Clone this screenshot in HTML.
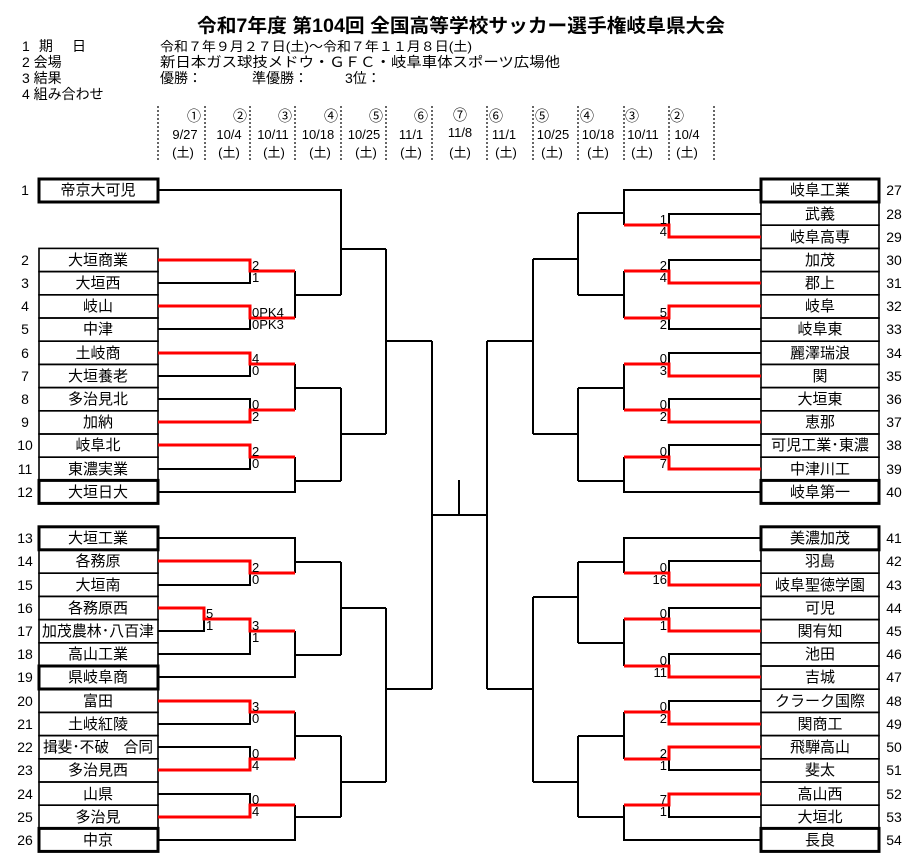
<!DOCTYPE html>
<html><head><meta charset="utf-8"><style>
html,body{margin:0;padding:0;background:#fff;}
svg{display:block;}
text{font-family:"Liberation Sans","Noto Sans CJK JP",sans-serif;fill:#000;}
.t{font-size:15px;text-anchor:middle;}
.n{font-size:14px;text-anchor:middle;}
.s{font-size:13px;}
.h{font-size:14px;}
</style></head><body>
<svg width="918" height="859" viewBox="0 0 918 859" xmlns="http://www.w3.org/2000/svg">
<text x="197" y="32" font-size="19" font-weight="bold" textLength="528" lengthAdjust="spacingAndGlyphs">令和7年度 第104回 全国高等学校サッカー選手権岐阜県大会</text>
<g class="h">
<text x="22" y="51" textLength="64">1 期　日</text><text x="22" y="67">2 会場</text><text x="22" y="83">3 結果</text><text x="22" y="99">4 組み合わせ</text>
<text x="160" y="51" font-size="13" textLength="312" lengthAdjust="spacingAndGlyphs">令和７年９月２７日(土)～令和７年１１月８日(土)</text>
<text x="160" y="67" textLength="400" lengthAdjust="spacingAndGlyphs">新日本ガス球技メドウ・ＧＦＣ・岐阜車体スポーツ広場他</text>
<text x="160" y="83">優勝：</text><text x="252" y="83">準優勝：</text><text x="345" y="83">3位：</text>
</g>
<g stroke="#000" stroke-width="1.2" stroke-dasharray="2,2">
<path d="M158,106V160M205,106V160M250,106V160M295,106V160M341,106V160M386,106V160M432,106V160M487,106V160M533,106V160M578,106V160M624,106V160M669,106V160M714,106V160"/>
</g>
<g font-size="14" text-anchor="middle">
<text x="194" y="121">①</text><text x="240" y="121">②</text><text x="285" y="121">③</text><text x="331" y="121">④</text><text x="376" y="121">⑤</text><text x="421" y="121">⑥</text><text x="460" y="120">⑦</text><text x="496" y="121">⑥</text><text x="542" y="121">⑤</text><text x="587" y="121">④</text><text x="632" y="121">③</text><text x="677" y="121">②</text>
</g>
<g font-size="13" text-anchor="middle">
<text x="185" y="139">9/27</text><text x="229" y="139">10/4</text><text x="273" y="139">10/11</text><text x="318" y="139">10/18</text><text x="364" y="139">10/25</text><text x="411" y="139">11/1</text><text x="460" y="137">11/8</text><text x="504" y="139">11/1</text><text x="553" y="139">10/25</text><text x="598" y="139">10/18</text><text x="643" y="139">10/11</text><text x="687" y="139">10/4</text>
<text x="183" y="157">(土)</text><text x="229" y="157">(土)</text><text x="274" y="157">(土)</text><text x="320" y="157">(土)</text><text x="366" y="157">(土)</text><text x="411" y="157">(土)</text><text x="460" y="157">(土)</text><text x="506" y="157">(土)</text><text x="552" y="157">(土)</text><text x="598" y="157">(土)</text><text x="642" y="157">(土)</text><text x="687" y="157">(土)</text>
</g>

<g fill="none" stroke="#000" stroke-width="1.6">
<rect x="39" y="248.4" width="119" height="23.2"/><rect x="39" y="271.6" width="119" height="23.2"/><rect x="39" y="294.8" width="119" height="23.2"/><rect x="39" y="318" width="119" height="23.2"/><rect x="39" y="341.2" width="119" height="23.2"/><rect x="39" y="364.4" width="119" height="23.2"/><rect x="39" y="387.6" width="119" height="23.2"/><rect x="39" y="410.8" width="119" height="23.2"/><rect x="39" y="434" width="119" height="23.2"/><rect x="39" y="457.2" width="119" height="23.2"/>
<rect x="39" y="550" width="119" height="23.2"/><rect x="39" y="573.2" width="119" height="23.2"/><rect x="39" y="596.4" width="119" height="23.2"/><rect x="39" y="619.6" width="119" height="23.2"/><rect x="39" y="642.8" width="119" height="23.2"/><rect x="39" y="689.2" width="119" height="23.2"/><rect x="39" y="712.4" width="119" height="23.2"/><rect x="39" y="735.6" width="119" height="23.2"/><rect x="39" y="758.8" width="119" height="23.2"/><rect x="39" y="782" width="119" height="23.2"/><rect x="39" y="805.2" width="119" height="23.2"/>
<rect x="761" y="202" width="118" height="23.2"/><rect x="761" y="225.2" width="118" height="23.2"/><rect x="761" y="248.4" width="118" height="23.2"/><rect x="761" y="271.6" width="118" height="23.2"/><rect x="761" y="294.8" width="118" height="23.2"/><rect x="761" y="318" width="118" height="23.2"/><rect x="761" y="341.2" width="118" height="23.2"/><rect x="761" y="364.4" width="118" height="23.2"/><rect x="761" y="387.6" width="118" height="23.2"/><rect x="761" y="410.8" width="118" height="23.2"/><rect x="761" y="434" width="118" height="23.2"/><rect x="761" y="457.2" width="118" height="23.2"/>
<rect x="761" y="550" width="118" height="23.2"/><rect x="761" y="573.2" width="118" height="23.2"/><rect x="761" y="596.4" width="118" height="23.2"/><rect x="761" y="619.6" width="118" height="23.2"/><rect x="761" y="642.8" width="118" height="23.2"/><rect x="761" y="666" width="118" height="23.2"/><rect x="761" y="689.2" width="118" height="23.2"/><rect x="761" y="712.4" width="118" height="23.2"/><rect x="761" y="735.6" width="118" height="23.2"/><rect x="761" y="758.8" width="118" height="23.2"/><rect x="761" y="782" width="118" height="23.2"/><rect x="761" y="805.2" width="118" height="23.2"/>
</g>
<g fill="none" stroke="#000" stroke-width="3">
<rect x="39" y="179" width="119" height="23"/><rect x="39" y="480.4" width="119" height="23"/><rect x="39" y="526.8" width="119" height="23"/><rect x="39" y="666" width="119" height="23"/><rect x="39" y="828.4" width="119" height="23"/>
<rect x="761" y="179" width="118" height="23"/><rect x="761" y="480.4" width="118" height="23"/><rect x="761" y="526.8" width="118" height="23"/><rect x="761" y="828.4" width="118" height="23"/>
</g>

<g fill="none" stroke="#000" stroke-width="2">
<path d="M158,260H250V283H158M158,306H250V329H158M158,353H250V376H158M158,399H250V422H158M158,445H250V469H158M158,561H250V585H158M158,701H250V724H158M158,747H250V770H158M158,794H250V817H158"/>
<path d="M158,608H204V631H158M158,654H250V619M250,271H295M250,318H295"/>
<path d="M158,190H341V295M295,271V318M295,295H341M341,249H386M295,364V410M295,388H341M158,492H295V457M295,481H341M341,388V481M341,434H386M386,249V434M386,341H432"/>
<path d="M432,341V689M432,515H487M459,480V515"/>
<path d="M158,538H295V573M295,562H341M158,677H295V631M295,655H341M341,562V655M341,608H386M295,712V759M295,736H341M158,840H295V805M295,817H341M341,736V817M341,782H386M386,608V782M386,689H432"/>
<path d="M761,214H669V237H761M761,260H669V283H761M761,306H669V329H761M761,353H669V376H761M761,399H669V422H761M761,445H669V469H761M761,561H669V585H761M761,608H669V631H761M761,654H669V677H761M761,701H669V724H761M761,747H669V770H761M761,794H669V817H761"/>
<path d="M761,190H624V225M624,213H578M624,271V318M624,295H578M578,213V295M578,259H533M624,364V410M624,388H578M761,492H624V457M624,481H578M578,388V481M578,434H533M533,259V434M533,341H487M487,341V689"/>
<path d="M761,538H624V573M624,562H578M624,619V666M624,643H578M578,562V643M578,597H533M624,712V759M624,736H578M761,840H624V805M624,817H578M578,736V817M578,782H533M533,597V782M533,689H487"/>
</g>
<g fill="none" stroke="#f00" stroke-width="3">
<path d="M158,260H250V271H295M158,306H250V318H295M158,353H250V364H295M158,422H250V410H295M158,445H250V457H295"/>
<path d="M158,561H250V573H295M158,608H204V619H250V631H295M158,701H250V712H295M158,770H250V759H295M158,817H250V805H295"/>
<path d="M761,237H669V225H624M761,283H669V271H624M761,306H669V318H624M761,376H669V364H624M761,422H669V410H624M761,469H669V457H624"/>
<path d="M761,585H669V573H624M761,631H669V619H624M761,677H669V666H624M761,724H669V712H624M761,747H669V759H624M761,794H669V805H624"/>
</g>

<g class="s">
<text x="252" y="270">2</text><text x="252" y="282">1</text>
<text x="252" y="317">0PK4</text><text x="252" y="329">0PK3</text>
<text x="252" y="363">4</text><text x="252" y="375">0</text>
<text x="252" y="409">0</text><text x="252" y="421">2</text>
<text x="252" y="456">2</text><text x="252" y="468">0</text>
<text x="252" y="572">2</text><text x="252" y="584">0</text>
<text x="206" y="618">5</text><text x="206" y="630">1</text>
<text x="252" y="630">3</text><text x="252" y="642">1</text>
<text x="252" y="711">3</text><text x="252" y="723">0</text>
<text x="252" y="758">0</text><text x="252" y="770">4</text>
<text x="252" y="804">0</text><text x="252" y="816">4</text>
</g>
<g class="s" text-anchor="end">
<text x="667" y="224">1</text><text x="667" y="236">4</text>
<text x="667" y="270">2</text><text x="667" y="282">4</text>
<text x="667" y="317">5</text><text x="667" y="329">2</text>
<text x="667" y="363">0</text><text x="667" y="375">3</text>
<text x="667" y="409">0</text><text x="667" y="421">2</text>
<text x="667" y="456">0</text><text x="667" y="468">7</text>
<text x="667" y="572">0</text><text x="667" y="584">16</text>
<text x="667" y="618">0</text><text x="667" y="630">1</text>
<text x="667" y="665">0</text><text x="667" y="677">11</text>
<text x="667" y="711">0</text><text x="667" y="723">2</text>
<text x="667" y="758">2</text><text x="667" y="770">1</text>
<text x="667" y="804">7</text><text x="667" y="816">1</text>
</g>

<g class="t">
<text x="98" y="195">帝京大可児</text><text x="98" y="265">大垣商業</text><text x="98" y="288">大垣西</text><text x="98" y="311">岐山</text><text x="98" y="334">中津</text><text x="98" y="358">土岐商</text><text x="98" y="381">大垣養老</text><text x="98" y="404">多治見北</text><text x="98" y="427">加納</text><text x="98" y="450">岐阜北</text><text x="98" y="474">東濃実業</text><text x="98" y="497">大垣日大</text>
<text x="98" y="543">大垣工業</text><text x="98" y="566">各務原</text><text x="98" y="590">大垣南</text><text x="98" y="613">各務原西</text><text x="98" y="636" textLength="112" lengthAdjust="spacingAndGlyphs">加茂農林･八百津</text><text x="98" y="659">高山工業</text><text x="98" y="682">県岐阜商</text><text x="98" y="706">富田</text><text x="98" y="729">土岐紅陵</text><text x="98" y="752" textLength="110" lengthAdjust="spacingAndGlyphs">揖斐･不破　合同</text><text x="98" y="775">多治見西</text><text x="98" y="799">山県</text><text x="98" y="822">多治見</text><text x="98" y="845">中京</text>
</g>
<g class="t">
<text x="820" y="195">岐阜工業</text><text x="820" y="219">武義</text><text x="820" y="242">岐阜高専</text><text x="820" y="265">加茂</text><text x="820" y="288">郡上</text><text x="820" y="311">岐阜</text><text x="820" y="334">岐阜東</text><text x="820" y="358">麗澤瑞浪</text><text x="820" y="381">関</text><text x="820" y="404">大垣東</text><text x="820" y="427">恵那</text><text x="820" y="450" textLength="98" lengthAdjust="spacingAndGlyphs">可児工業･東濃</text><text x="820" y="474">中津川工</text><text x="820" y="497">岐阜第一</text>
<text x="820" y="543">美濃加茂</text><text x="820" y="566">羽島</text><text x="820" y="590">岐阜聖徳学園</text><text x="820" y="613">可児</text><text x="820" y="636">関有知</text><text x="820" y="659">池田</text><text x="820" y="682">吉城</text><text x="820" y="706">クラーク国際</text><text x="820" y="729">関商工</text><text x="820" y="752">飛騨高山</text><text x="820" y="775">斐太</text><text x="820" y="799">高山西</text><text x="820" y="822">大垣北</text><text x="820" y="845">長良</text>
</g>
<g class="n">
<text x="25" y="195">1</text><text x="25" y="265">2</text><text x="25" y="288">3</text><text x="25" y="311">4</text><text x="25" y="334">5</text><text x="25" y="358">6</text><text x="25" y="381">7</text><text x="25" y="404">8</text><text x="25" y="427">9</text><text x="25" y="450">10</text><text x="25" y="474">11</text><text x="25" y="497">12</text>
<text x="25" y="543">13</text><text x="25" y="566">14</text><text x="25" y="590">15</text><text x="25" y="613">16</text><text x="25" y="636">17</text><text x="25" y="659">18</text><text x="25" y="682">19</text><text x="25" y="706">20</text><text x="25" y="729">21</text><text x="25" y="752">22</text><text x="25" y="775">23</text><text x="25" y="799">24</text><text x="25" y="822">25</text><text x="25" y="845">26</text>
<text x="894" y="195">27</text><text x="894" y="219">28</text><text x="894" y="242">29</text><text x="894" y="265">30</text><text x="894" y="288">31</text><text x="894" y="311">32</text><text x="894" y="334">33</text><text x="894" y="358">34</text><text x="894" y="381">35</text><text x="894" y="404">36</text><text x="894" y="427">37</text><text x="894" y="450">38</text><text x="894" y="474">39</text><text x="894" y="497">40</text>
<text x="894" y="543">41</text><text x="894" y="566">42</text><text x="894" y="590">43</text><text x="894" y="613">44</text><text x="894" y="636">45</text><text x="894" y="659">46</text><text x="894" y="682">47</text><text x="894" y="706">48</text><text x="894" y="729">49</text><text x="894" y="752">50</text><text x="894" y="775">51</text><text x="894" y="799">52</text><text x="894" y="822">53</text><text x="894" y="845">54</text>
</g>
</svg>
</body></html>
